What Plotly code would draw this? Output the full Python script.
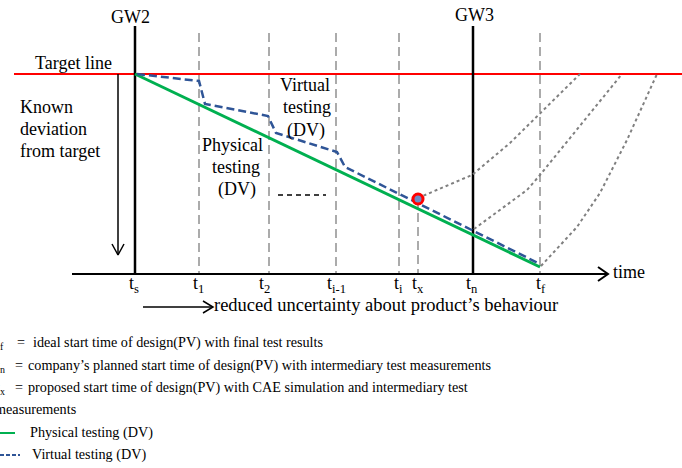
import plotly.graph_objects as go

W, H = 682, 468
SERIF = "Liberation Serif, Times New Roman, DejaVu Serif, serif"

# ---- data (diagram coordinates: x = time position, y = deviation position) ----
target_y = 74
target_x = [14, 682]
gateways = ["GW2", "GW3"]
gateway_x = [135, 473]
gateway_top = 26
axis_y = 274
axis_x = [72, 608]

tick_labels = ["t<sub>s</sub>", "t<sub>1</sub>", "t<sub>2</sub>", "t<sub>i-1</sub>",
               "t<sub>i</sub>", "t<sub>x</sub>", "t<sub>n</sub>", "t<sub>f</sub>"]
tick_x = [134, 198, 264, 336, 398, 418, 472, 541]
dashed_x = [199, 269, 336, 399, 540]
dashed_top = 33

physical_x = [135, 540]
physical_y = [74, 267]
virtual_x = [137, 199, 205, 268, 276, 337, 345, 540]
virtual_y = [74, 81, 104, 116, 133, 152, 167, 264]

tx_point = (418, 199)
dotted_curves = [
    ([418, 472, 510, 540, 580], [198, 175, 143, 113, 74]),
    ([474, 527, 540, 622], [229, 190, 175, 74]),
    ([541, 577, 600, 627, 657], [266, 227, 193, 140, 74]),
]

legend_rows_y = [343, 366, 388, 410, 433, 455]
legend_text = [
    "t<sub>f</sub>", "=", "ideal start time of design(PV) with final test results",
    "t<sub>n</sub>", "=", "company\u2019s planned start time of design(PV) with intermediary test measurements",
    "t<sub>x</sub>", "=", "proposed start time of design(PV) with CAE simulation and intermediary test",
    "measurements",
    "Physical testing (DV)",
    "Virtual testing (DV)",
]
legend_text_x = [-4, 17, 33, -4, 15, 28, -4, 15, 28, -5, 30, 32]
legend_text_row = [0, 0, 0, 1, 1, 1, 2, 2, 2, 3, 4, 5]

fig = go.Figure()


def line(xs, ys, color, width, dash="solid"):
    fig.add_trace(go.Scatter(x=xs, y=ys, mode="lines", hoverinfo="skip",
                             line=dict(color=color, width=width, dash=dash)))


# target line
line(target_x, [target_y, target_y], "#ff0000", 2)
# gray dashed time verticals
for xv in dashed_x:
    line([xv, xv], [dashed_top, axis_y], "#909090", 1.5, "9px,5px")
line([tx_point[0], tx_point[0]], [tx_point[1], axis_y], "#909090", 1.5, "9px,5px")
# gateway verticals
for xv in gateway_x:
    line([xv, xv], [gateway_top, axis_y], "#000000", 2.5)
# time axis with chevron
line(axis_x, [axis_y, axis_y], "#000000", 2)
line([axis_x[1] - 10, axis_x[1], axis_x[1] - 10], [axis_y - 7, axis_y, axis_y + 7], "#000000", 2)
# known deviation arrow
line([118, 118], [target_y, 255], "#000000", 1.5)
line([112, 118, 124], [244, 255, 244], "#000000", 1.5)
# reduced uncertainty arrow
line([143, 213], [307, 307], "#000000", 1.5)
line([203, 213, 203], [301, 307, 313], "#000000", 1.5)
# short dashed ellipsis
line([278, 326], [195, 195], "#000000", 1.5, "5px,4px")
# dotted extrapolations
for xs, ys in dotted_curves:
    line(xs, ys, "#808080", 2, "dot")
# physical & virtual testing
line(physical_x, physical_y, "#00b050", 3)
line(virtual_x, virtual_y, "#2f5597", 2.5, "8px,4px")
# tx marker
fig.add_trace(go.Scatter(x=[tx_point[0]], y=[tx_point[1]], mode="markers", hoverinfo="skip",
                         marker=dict(size=10, color="#6d8cc6", line=dict(color="#ff0000", width=3))))
# legend sample lines
line([0, 15], [legend_rows_y[4], legend_rows_y[4]], "#00b050", 2)
line([0, 20], [legend_rows_y[5], legend_rows_y[5]], "#2f5597", 2, "4px,2px")

# legend texts (text trace so positions are exact)
fig.add_trace(go.Scatter(
    x=legend_text_x, y=[legend_rows_y[r] for r in legend_text_row],
    text=legend_text, mode="text", textposition="middle right", hoverinfo="skip",
    textfont=dict(family=SERIF, size=14.2, color="#000000")))

ann = []


def text(x, y, s, size=18, anchor="center", xshift=0):
    ann.append(dict(x=x, y=y, xref="x", yref="y", text=s, showarrow=False,
                    xanchor=anchor, yanchor="middle", xshift=xshift,
                    font=dict(family=SERIF, size=size, color="#000000")))


text(130, 17, gateways[0])
text(474, 15, gateways[1])
text(73, 63, "Target line")
text(18, 107, "Known", anchor="left")
text(18, 129, "deviation", anchor="left")
text(18, 151, "from target", anchor="left")
text(305, 85, "Virtual")
text(307, 107, "testing")
text(306, 130, "(DV)")
text(232, 145, "Physical")
text(236, 167, "testing")
text(237, 189, "(DV)")
for xv, lab in zip(tick_x, tick_labels):
    text(xv, 284, lab)
text(611, 272, "time", anchor="left")
text(212, 305, "reduced uncertainty about product\u2019s behaviour", size=18.5, anchor="left")

fig.update_layout(
    width=W, height=H, margin=dict(l=0, r=0, t=0, b=0),
    paper_bgcolor="white", plot_bgcolor="white", showlegend=False,
    font=dict(family=SERIF),
    xaxis=dict(range=[0, W], visible=False, fixedrange=True),
    yaxis=dict(range=[H, 0], visible=False, fixedrange=True),
    annotations=ann,
)
fig.write_html("out.html", config={"displayModeBar": False})

with open("out.html", encoding="utf-8") as f:
    html = f.read()
html = html.replace("<head>", "<head><style>html,body{margin:0;padding:0;overflow:hidden;}</style>", 1)
with open("out.html", "w", encoding="utf-8") as f:
    f.write(html)
